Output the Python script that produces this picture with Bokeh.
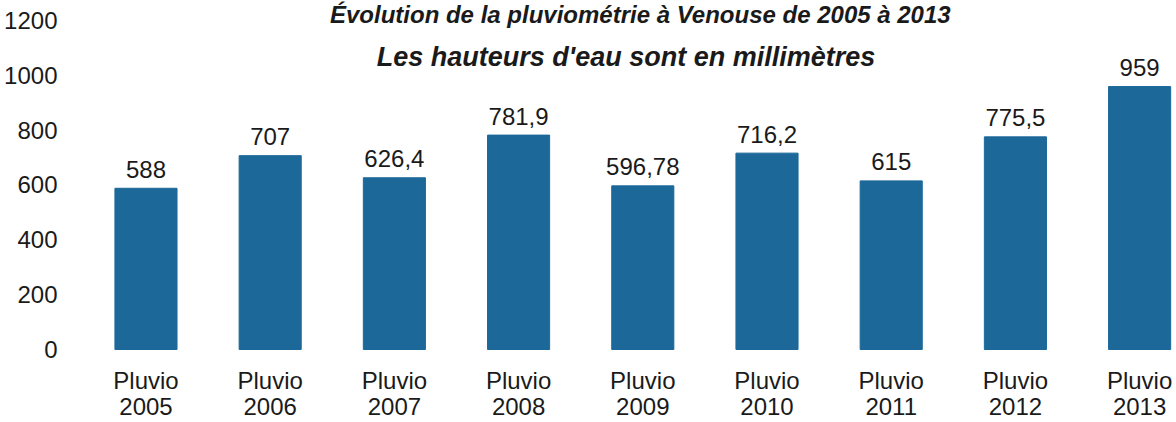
from bokeh.plotting import figure
from bokeh.models import Range1d, FixedTicker, ColumnDataSource, Label
from bokeh.core.properties import value
from bokeh.embed import file_html
from bokeh.resources import INLINE

categories = ["Pluvio 2005", "Pluvio 2006", "Pluvio 2007", "Pluvio 2008", "Pluvio 2009",
              "Pluvio 2010", "Pluvio 2011", "Pluvio 2012", "Pluvio 2013"]
rainfall = [588, 707, 626.4, 781.9, 596.78, 716.2, 615, 775.5, 959]
value_labels = ["588", "707", "626,4", "781,9", "596,78", "716,2", "615", "775,5", "959"]
y_ticks = [0, 200, 400, 600, 800, 1000, 1200]
title_text = "Évolution de la pluviométrie à Venouse de 2005 à 2013"
subtitle_text = "Les hauteurs d'eau sont en millimètres"

FONT = "Liberation Sans"
BAR = "#1c6899"
TXT = "#1a1a1a"

xs = list(range(len(categories)))
line1 = [c.split(" ")[0] for c in categories]
line2 = [c.split(" ")[1] for c in categories]
src = ColumnDataSource(dict(x=xs, top=rainfall, lab=value_labels, l1=line1, l2=line2,
                            y1=[-113.0] * len(xs), y2=[-208.0] * len(xs)))

p = figure(width=1176, height=420, output_backend="svg", toolbar_location=None,
           x_range=Range1d(-0.503, 8.297), y_range=Range1d(-259.0, 1272.9),
           x_axis_location=None,
           min_border_left=83, min_border_right=0, min_border_top=0, min_border_bottom=0)
p.outline_line_color = None
p.grid.grid_line_color = None
p.background_fill_color = "white"

p.vbar(x="x", top="top", bottom=0, width=0.5, source=src, fill_color=BAR, line_color=BAR)
p.text(x="x", y="top", text="lab", source=src, text_align="center", text_baseline="middle",
       y_offset=-19, text_font=value(FONT), text_font_size="24px", text_color=TXT)
p.text(x="x", y="y1", text="l1", source=src, text_align="center", text_baseline="middle",
       text_font=value(FONT), text_font_size="24px", text_color=TXT)
p.text(x="x", y="y2", text="l2", source=src, text_align="center", text_baseline="middle",
       text_font=value(FONT), text_font_size="24px", text_color=TXT)

p.yaxis.ticker = FixedTicker(ticks=y_ticks)
p.yaxis.axis_line_color = None
p.yaxis.major_tick_line_color = None
p.yaxis.minor_tick_line_color = None
p.yaxis.major_label_text_font = FONT
p.yaxis.major_label_text_font_size = "24px"
p.yaxis.major_label_text_color = TXT
p.yaxis.major_label_standoff = 20

p.add_layout(Label(x=3.865, y=1068, text=subtitle_text, text_align="center", text_baseline="middle",
                   text_font=FONT, text_font_size="27px", text_font_style="bold italic",
                   text_color=TXT))
p.add_layout(Label(x=3.98, y=1272.9, text=title_text, text_align="center", text_baseline="top",
                   text_font=FONT, text_font_size="24px", text_font_style="bold italic",
                   text_color=TXT))

open("out.html", "w").write(file_html(p, INLINE))
